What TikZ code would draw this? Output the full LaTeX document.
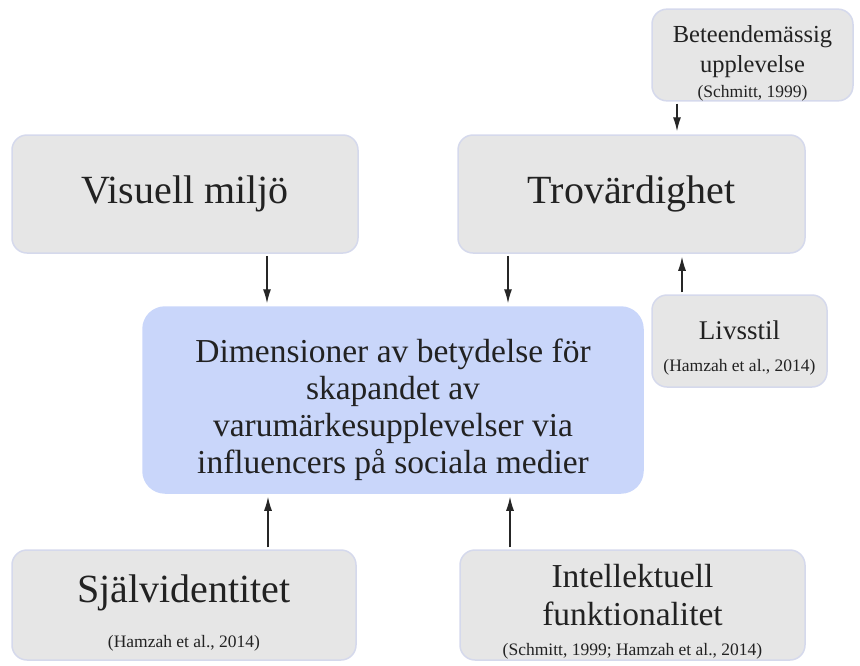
\documentclass[tikz,border=0pt]{standalone}
\usepackage{fontspec}
\setmainfont{Liberation Serif}
\usetikzlibrary{arrows.meta}

\definecolor{boxgrey}{HTML}{E6E6E6}
\definecolor{boxline}{HTML}{D5D9EC}
\definecolor{mainblue}{HTML}{C9D6FA}
\definecolor{txt}{HTML}{222222}

\tikzset{
	faktor/.style={draw=boxline, fill=boxgrey, line width=1.5pt, rounded corners=15pt, align=center, text=txt, inner sep=0pt},
	huvud/.style={draw=mainblue, fill=mainblue, line width=1.5pt, rounded corners=22pt, align=center, text=txt, inner sep=0pt},
	pil/.style={-{Latex[length=14pt, width=8pt]}, line width=1.2pt, draw=black!85, shorten <=2pt, shorten >=3pt}
}

\newcommand{\stor}{\fontsize{40}{44}\selectfont}
\newcommand{\mellan}{\fontsize{33.5}{38}\selectfont}
\newcommand{\liten}{\fontsize{17.5}{22}\selectfont}
\newcommand{\topp}[1]{\rule{0pt}{#1pt}} % skjuter texten nedåt

\begin{document}
\begin{tikzpicture}[x=1pt, y=-1pt]

	\useasboundingbox (0, 0) rectangle (860, 665);

	% ruta i mitten
	\node[huvud, font=\fontsize{33.5}{37}\selectfont, minimum width=500, minimum height=186] (dim) at (393, 400)
		{\topp{43.5}Dimensioner av betydelse för\\ skapandet av\\ varumärkesupplevelser via\\ influencers på sociala medier};

	\node[faktor, font=\stor, minimum width=346, minimum height=118] (visuell) at (185, 194) {Visuell miljö};
	\node[faktor, font=\stor, minimum width=347, minimum height=118] (trov) at (631.5, 194) {Trovärdighet};

	\node[faktor, font=\fontsize{24.5}{30}\selectfont, minimum width=201, minimum height=90] (beteende) at (752.5, 55)
		{\topp{33}Beteendemässig\\ upplevelse\\[-5pt] \liten (Schmitt, 1999)};
	\node[faktor, font=\fontsize{27}{33}\selectfont, minimum width=175, minimum height=92] (livsstil) at (739.5, 341)
		{\topp{33}Livsstil\\[-1pt] \liten (Hamzah et al., 2014)};

	\node[faktor, font=\stor, minimum width=344, minimum height=110] (sjalv) at (184, 605)
		{\topp{44}Självidentitet\\[1pt] \liten (Hamzah et al., 2014)};
	\node[faktor, font=\mellan, minimum width=345, minimum height=110] (intel) at (632.5, 605)
		{\topp{37}Intellektuell\\ funktionalitet\\[-8pt] \liten (Schmitt, 1999; Hamzah et al., 2014)};

	% pilar
	\draw[pil] ([xshift=82pt]visuell.south) -- ([xshift=82pt]visuell.south |- dim.north);
	\draw[pil] ([xshift=-123.5pt]trov.south) -- ([xshift=-123.5pt]trov.south |- dim.north);
	\draw[pil] ([xshift=-75.5pt]beteende.south) -- ([xshift=-75.5pt]beteende.south |- trov.north);
	\draw[pil] ([xshift=-57.5pt]livsstil.north) -- ([xshift=-57.5pt]livsstil.north |- trov.south);
	\draw[pil] ([xshift=84pt]sjalv.north) -- ([xshift=84pt]sjalv.north |- dim.south);
	\draw[pil] ([xshift=-122.5pt]intel.north) -- ([xshift=-122.5pt]intel.north |- dim.south);

\end{tikzpicture}
\end{document}
